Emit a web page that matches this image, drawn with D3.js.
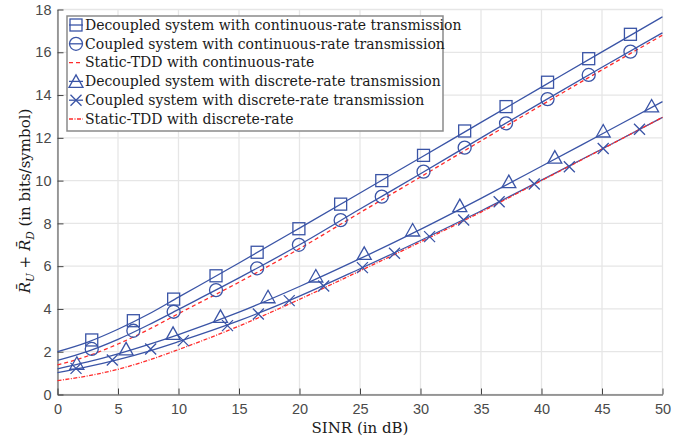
<!DOCTYPE html>
<html>
<head>
<meta charset="utf-8">
<script src="https://cdn.jsdelivr.net/npm/d3@7"></script>
<style>
html,body{margin:0;padding:0;background:#fff;}
svg{display:block;}
</style>
</head>
<body>
<svg id="chart" width="688" height="443"></svg>
<script>
// ---------- data ----------
const sinrGrid   = [0, 2.5, 5, 7.5, 10, 15, 20, 25, 30, 35, 40, 45, 50];
const decCont    = [2.0, 2.45, 3.05, 3.75, 4.55, 6.15, 7.78, 9.42, 11.07, 12.72, 14.37, 16.02, 17.66];
const coupCont   = [1.6, 2.02, 2.58, 3.25, 3.98, 5.45, 7.0, 8.67, 10.32, 12.0, 13.66, 15.3, 16.91];
const staticCont = [1.38, 1.8, 2.36, 3.03, 3.78, 5.25, 6.82, 8.5, 10.17, 11.86, 13.53, 15.18, 16.8];
const decDisc    = [1.2, 1.52, 1.9, 2.33, 2.8, 3.85, 5.05, 6.35, 7.72, 9.17, 10.67, 12.18, 13.69];
const coupDisc   = [1.02, 1.3, 1.63, 2.02, 2.47, 3.45, 4.6, 5.88, 7.2, 8.58, 10.02, 11.48, 12.96];
const staticDisc = [0.65, 0.87, 1.18, 1.6, 2.1, 3.2, 4.45, 5.78, 7.13, 8.53, 10.0, 11.47, 12.96];

const sqX    = [2.83, 6.27, 9.6, 13.1, 16.5, 19.95, 23.4, 26.8, 30.25, 33.65, 37.07, 40.5, 43.9, 47.35];
const sqY    = [2.55, 3.45, 4.46, 5.55, 6.65, 7.75, 8.9, 10.0, 11.18, 12.32, 13.46, 14.6, 15.7, 16.84];
const circX  = [2.83, 6.27, 9.6, 13.1, 16.5, 19.95, 23.4, 26.8, 30.25, 33.65, 37.07, 40.5, 43.9, 47.35];
const circY  = [2.13, 2.98, 3.87, 4.88, 5.9, 7.0, 8.15, 9.25, 10.42, 11.54, 12.68, 13.81, 14.94, 16.03];
const triX   = [1.6, 5.67, 9.55, 13.47, 17.4, 21.35, 25.35, 29.35, 33.25, 37.3, 41.1, 45.1, 49.1];
const triY   = [1.46, 2.13, 2.86, 3.65, 4.57, 5.54, 6.6, 7.69, 8.83, 9.95, 11.1, 12.32, 13.49];
const crossX = [1.53, 4.53, 7.7, 10.4, 14.05, 16.6, 19.15, 22.0, 25.2, 27.85, 30.75, 33.57, 36.5, 39.4, 42.3, 45.1, 48.1];
const crossY = [1.22, 1.61, 2.13, 2.52, 3.22, 3.76, 4.39, 5.07, 5.93, 6.6, 7.38, 8.16, 9.01, 9.84, 10.65, 11.5, 12.4];

const xTicks = [0, 5, 10, 15, 20, 25, 30, 35, 40, 45, 50];
const yTicks = [0, 2, 4, 6, 8, 10, 12, 14, 16, 18];

const legendLabels = [
  "Decoupled system with continuous-rate transmission",
  "Coupled system with continuous-rate transmission",
  "Static-TDD with continuous-rate",
  "Decoupled system with discrete-rate transmission",
  "Coupled system with discrete-rate transmission",
  "Static-TDD with discrete-rate"
];

// ---------- layout ----------
const BLUE = "#3a54a6", RED = "#ff2b2b";
const svg = d3.select("#chart");
const x = d3.scaleLinear().domain([0, 50]).range([57.5, 662.5]);
const y = d3.scaleLinear().domain([0, 18]).range([394.5, 9.5]);

// grid
const grid = svg.append("g");
grid.selectAll(".gx").data(xTicks).join("line")
  .attr("x1", d => x(d)).attr("x2", d => x(d))
  .attr("y1", y(0)).attr("y2", y(18))
  .attr("stroke", "#e6e6e6").attr("stroke-width", 1.3);
grid.selectAll(".gy").data(yTicks).join("line")
  .attr("x1", x(0)).attr("x2", x(50))
  .attr("y1", d => y(d)).attr("y2", d => y(d))
  .attr("stroke", "#e6e6e6").attr("stroke-width", 1.3);

// axes
const xAxis = d3.axisBottom(x).tickValues(xTicks).tickSizeInner(-6).tickSizeOuter(0).tickPadding(9);
const yAxis = d3.axisLeft(y).tickValues(yTicks).tickSizeInner(-6).tickSizeOuter(0).tickPadding(9);
const gx = svg.append("g").attr("transform", `translate(0,${y(0)})`).call(xAxis);
const gy = svg.append("g").attr("transform", `translate(${x(0)},0)`).call(yAxis);
[gx, gy].forEach(g => {
  g.select(".domain").attr("stroke", "#444").attr("stroke-width", 1);
  g.selectAll(".tick line").attr("stroke", "#444").attr("stroke-width", 1);
  g.selectAll(".tick text").attr("fill", "#4a4a4a")
    .attr("font-family", "'Liberation Sans', Arial, sans-serif").attr("font-size", 14.5);
});
gy.selectAll(".tick text").attr("dx", 3);

// lines
const line = d3.line().x(d => x(d[0])).y(d => y(d[1])).curve(d3.curveMonotoneX);
const series = [
  {v: decCont, color: BLUE, dash: null},
  {v: coupCont, color: BLUE, dash: null},
  {v: staticCont, color: RED, dash: "4,3"},
  {v: decDisc, color: BLUE, dash: null},
  {v: coupDisc, color: BLUE, dash: null},
  {v: staticDisc, color: RED, dash: "4,1.5,1,1.5"}
];
series.forEach(s => {
  svg.append("path").datum(sinrGrid.map((g, i) => [g, s.v[i]]))
    .attr("d", line).attr("fill", "none").attr("stroke", s.color)
    .attr("stroke-width", 1.3).attr("stroke-dasharray", s.dash);
});

// markers
function marker(g, type, cx, cy) {
  if (type === "sq") g.append("rect").attr("x", cx - 6).attr("y", cy - 6).attr("width", 12).attr("height", 12);
  else if (type === "circ") g.append("circle").attr("cx", cx).attr("cy", cy).attr("r", 6.5);
  else if (type === "tri") g.append("path").attr("d", `M${cx},${cy - 6.5}L${cx + 7},${cy + 6}L${cx - 7},${cy + 6}Z`);
  else if (type === "cross") g.append("path").attr("d", `M${cx - 5.5},${cy - 5.5}L${cx + 5.5},${cy + 5.5}M${cx - 5.5},${cy + 5.5}L${cx + 5.5},${cy - 5.5}`);
}
const mk = svg.append("g").attr("fill", "none").attr("stroke", BLUE).attr("stroke-width", 1.3);
sqX.forEach((v, i) => marker(mk, "sq", x(v), y(sqY[i])));
circX.forEach((v, i) => marker(mk, "circ", x(v), y(circY[i])));
triX.forEach((v, i) => marker(mk, "tri", x(v), y(triY[i])));
crossX.forEach((v, i) => marker(mk, "cross", x(v), y(crossY[i])));

// legend
const lg = svg.append("g");
lg.append("rect").attr("x", 67).attr("y", 16).attr("width", 376).attr("height", 115)
  .attr("fill", "#fff").attr("stroke", "#8a8a8a").attr("stroke-width", 1.5);
const lTypes = ["sq", "circ", null, "tri", "cross", null];
legendLabels.forEach((lab, i) => {
  const cy = 25 + i * 18.8;
  const s = series[i];
  lg.append("line").attr("x1", 69).attr("x2", 83).attr("y1", cy).attr("y2", cy)
    .attr("stroke", s.color).attr("stroke-width", 1.3).attr("stroke-dasharray", s.dash);
  if (lTypes[i]) {
    const m = lg.append("g").attr("fill", "none").attr("stroke", BLUE).attr("stroke-width", 1.3);
    marker(m, lTypes[i], 76, cy);
  }
  lg.append("text").attr("x", 85).attr("y", cy + 4.8).text(lab)
    .attr("font-family", "'DejaVu Serif', serif").attr("font-size", 14).attr("fill", "#1a1a1a");
});

// axis labels
svg.append("text").attr("x", x(25)).attr("y", 433).attr("text-anchor", "middle")
  .attr("font-family", "'DejaVu Serif', serif").attr("font-size", 15).attr("fill", "#1a1a1a")
  .text("SINR (in dB)");

const yl = svg.append("text").attr("transform", "translate(30,201) rotate(-90)")
  .attr("text-anchor", "middle").attr("font-family", "'DejaVu Serif', serif")
  .attr("font-size", 15).attr("fill", "#1a1a1a");
yl.append("tspan").attr("font-style", "italic").text("R\u0304");
yl.append("tspan").attr("font-style", "italic").attr("font-size", 10.5).attr("dy", 4).text("U");
yl.append("tspan").attr("dy", -4).text(" + ");
yl.append("tspan").attr("font-style", "italic").text("R\u0304");
yl.append("tspan").attr("font-style", "italic").attr("font-size", 10.5).attr("dy", 4).text("D");
yl.append("tspan").attr("dy", -4).text(" (in bits/symbol)");
</script>
</body>
</html>
